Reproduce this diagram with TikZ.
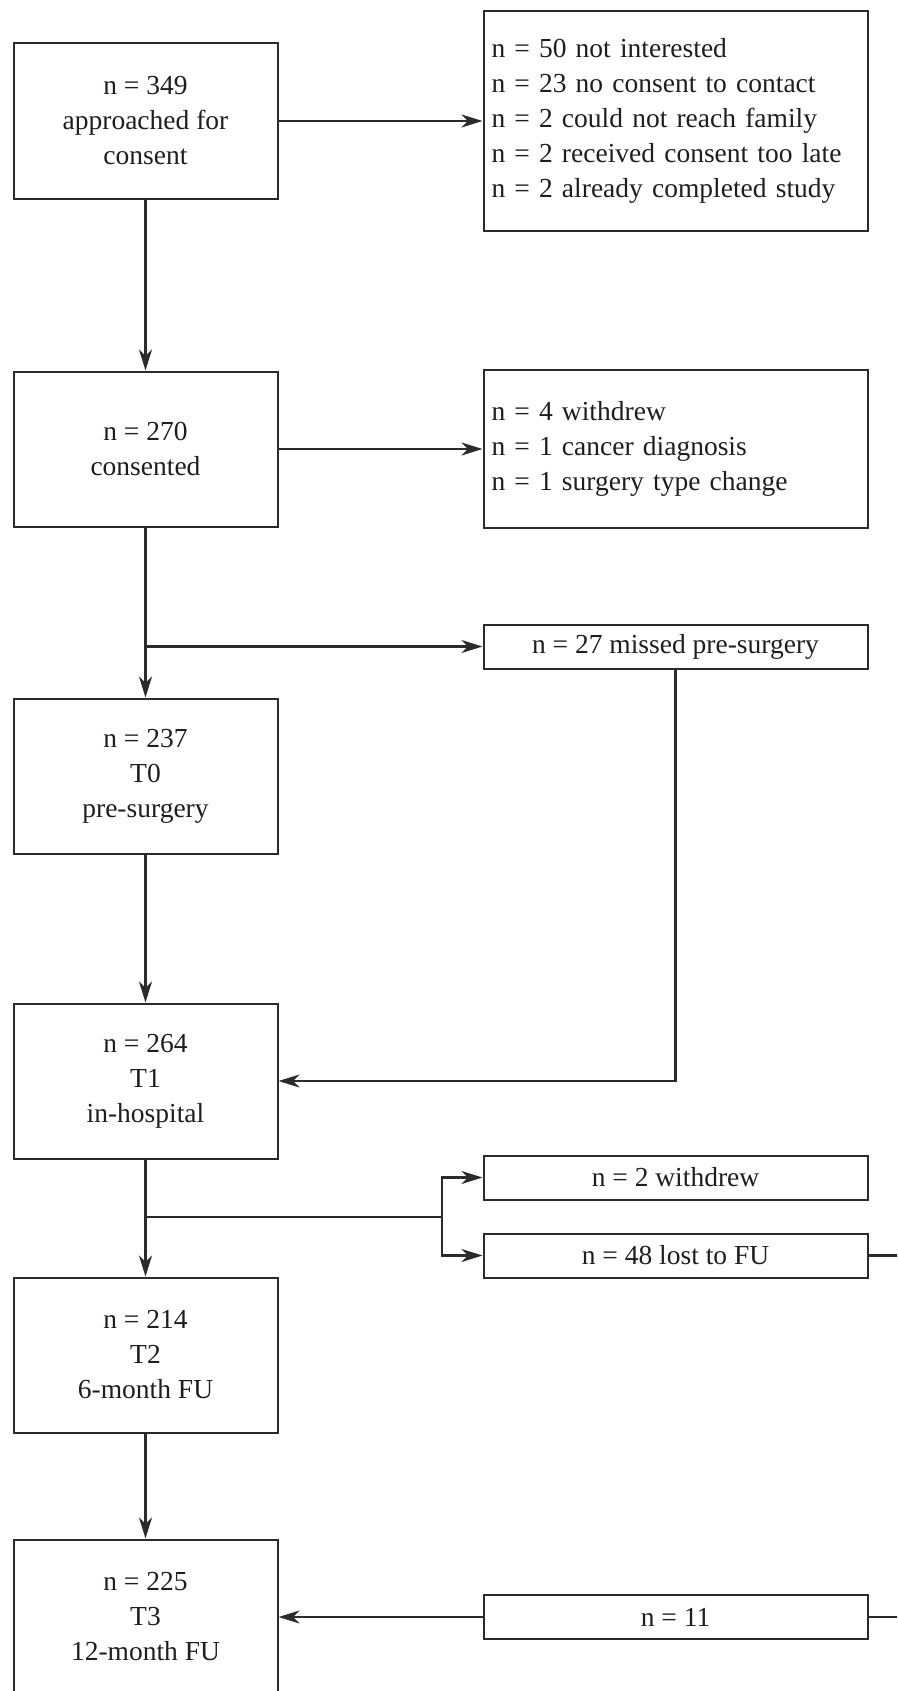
\documentclass[tikz,border=0pt]{standalone}
\usepackage{fontspec}
\setmainfont{Liberation Serif}
\usetikzlibrary{arrows.meta}
\definecolor{lc}{HTML}{2B2B2B}
\definecolor{tc}{HTML}{1E1E1E}
\begin{document}
\begin{tikzpicture}[x=1pt,y=-1pt,
  txt/.style={font={\fontsize{27.5}{35}\selectfont}, text=tc},
  mbox/.style={txt, draw=lc, line width=2pt, minimum width=264pt, minimum height=155pt, align=center, inner sep=0pt},
  rbox/.style={txt, draw=lc, line width=2pt, minimum width=384pt, align=center, inner sep=0pt},
  lbox/.style={txt, draw=lc, line width=2pt, text width=368pt, inner xsep=8pt, inner ysep=0pt, align=left},
  conn/.style={draw=lc, line width=2.1pt},
  arr/.style={conn, -{Stealth[length=21pt,width=13pt,inset=6.5pt]}}]
\useasboundingbox (0,0) rectangle (897,1691);
\clip (0,0) rectangle (897,1691);
% main column
\node[mbox] (A) at (145.5,121) {n = 349\\approached for\\consent};
\node[mbox] (B) at (145.5,449) {n = 270\\consented};
\node[mbox] (C) at (145.5,776) {n = 237\\T0\\pre-surgery};
\node[mbox] (D) at (145.5,1081) {n = 264\\T1\\in-hospital};
\node[mbox] (E) at (145.5,1355) {n = 214\\T2\\6-month FU};
\node[mbox] (F) at (145.5,1617) {n = 225\\T3\\12-month FU};
% right column
\node[lbox, minimum height=219pt] (R1) at (675.5,121) {n = 50 not interested\\n = 23 no consent to contact\\n = 2 could not reach family\\n = 2 received consent too late\\n = 2 already completed study};
\node[lbox, minimum height=158pt] (R2) at (675.5,448.5) {n = 4 withdrew\\n = 1 cancer diagnosis\\n = 1 surgery type change};
\node[rbox, minimum height=44pt] (M) at (675.5,646.5) {n = 27 missed pre-surgery};
\node[rbox, minimum height=44pt] (W) at (675.5,1177.5) {n = 2 withdrew};
\node[rbox, minimum height=44pt] (L) at (675.5,1255.5) {n = 48 lost to FU};
\node[rbox, minimum height=44pt] (N) at (675.5,1617) {n = 11};
% connectors
\draw[arr] (A.east) -- (R1.west);
\draw[arr] (A.south) -- (B.north);
\draw[arr] (B.east) -- (B.east -| R2.west);
\draw[arr] (B.south) -- (C.north);
\coordinate (j1) at (B.south |- M.west);
\draw[arr] (j1) -- (M.west);
\draw[arr] (M.south) |- (D.east);
\draw[arr] (C.south) -- (D.north);
\draw[arr] (D.south) -- (E.north);
\coordinate (j2) at (145.5,1217);
\coordinate (k2) at (442,1217);
\draw[conn] (j2) -- (k2);
\draw[arr] (k2) |- (W.west);
\draw[arr] (k2) |- (L.west);
\draw[arr] (E.south) -- (F.north);
\draw[conn] (L.east) -- ++(60,0) |- (N.east);
\draw[arr] (N.west) -- (F.east);
\end{tikzpicture}
\end{document}
